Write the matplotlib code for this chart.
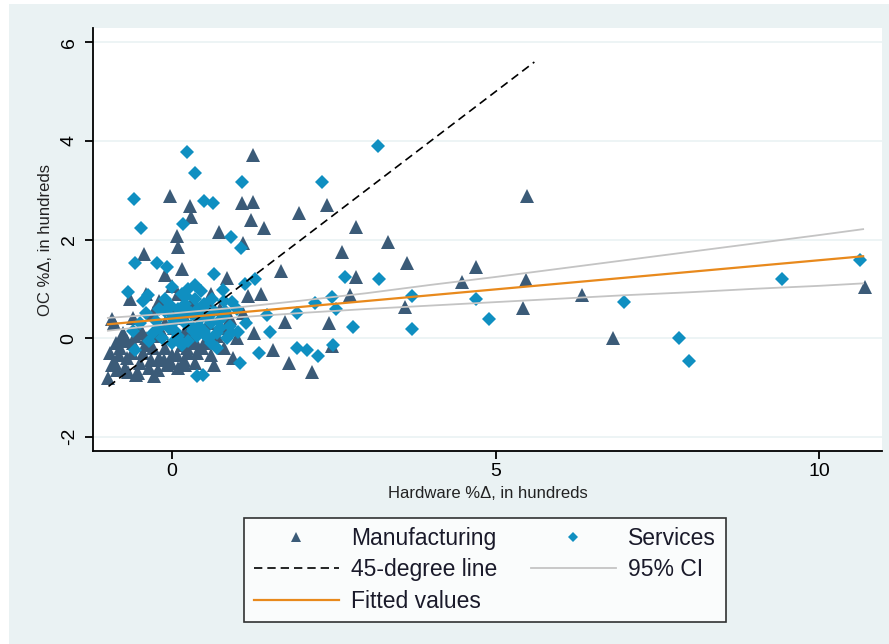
import matplotlib
matplotlib.use("Agg")
import matplotlib.pyplot as plt
from matplotlib.patches import Rectangle

plt.rcParams['font.family'] = ['Liberation Sans', 'DejaVu Sans']
plt.rcParams['axes.unicode_minus'] = False

# Manufacturing (triangles): hardware %change, OC %change (hundreds)
mfg_x = [5.49, 1.25, -0.03, 0.28, 0.29, 0.08, 0.09, -0.43, 1.08, 1.25, 1.22, 1.42, 1.96, 0.73,
         1.10, 2.40, 2.84, 3.34, 2.63, 3.63, 2.84, 2.75, 3.60, 2.43, 2.47, 2.16, 4.70, 4.48,
         5.47, 5.42, 6.34, 6.82, 10.71, 1.68, 1.17, 1.38, 0.85, 0.59, 1.75, 1.27, 1.56, 1.81,
         0.46, 0.16, -0.10, -0.93,
         -0.99, -0.28, -0.08, 0.20, -0.88, -0.68, -0.95, -0.80, -0.70, -0.60, -0.50, -0.45,
         -0.40, -0.35, -0.30, -0.20, -0.15, -0.10, 0.00, 0.05, 0.10, 0.15, 0.25, 0.30, 0.35,
         0.40, 0.50, 0.55, 0.60, 0.70, 0.80, 0.90, 1.00, -0.90, -0.75, -0.60, -0.50, -0.30,
         -0.20, -0.10, 0.00, 0.10, 0.20, 0.30, 0.45, 0.60, 0.75, -0.65, -0.40, 0.00, -0.85,
         -0.55, 0.65, 0.95, 1.10, -0.25, 0.20, -0.70, 0.35, 0.85,
         -0.92, -0.82, -0.72, -0.62, -0.52, -0.42, -0.32, -0.22, -0.12, -0.02, 0.08, 0.18,
         0.28, 0.38, -0.87, -0.77, -0.57, -0.37, -0.17, 0.03, 0.23, -0.47]
mfg_y = [2.88, 3.71, 2.88, 2.68, 2.45, 2.07, 1.85, 1.70, 2.74, 2.76, 2.39, 2.23, 2.54, 2.15,
         1.93, 2.70, 2.25, 1.95, 1.74, 1.52, 1.24, 0.87, 0.63, 0.30, -0.16, -0.69, 1.44, 1.14,
         1.18, 0.61, 0.87, 0.00, 1.03, 1.36, 0.85, 0.89, 1.22, 0.63, 0.32, 0.10, -0.24, -0.51,
         -0.20, 1.40, 1.28, 0.38,
         -0.81, -0.77, -0.55, -0.55, -0.51, -0.69, -0.30, -0.20, -0.40, -0.10, -0.50, -0.30,
         0.00, -0.60, -0.20, -0.40, 0.10, -0.20, -0.35, 0.00, -0.60, -0.15, -0.30, 0.10, -0.50,
         0.20, -0.10, 0.30, -0.35, 0.05, -0.20, 0.40, 0.00, 0.30, 0.10, 0.40, 0.20, 0.50,
         0.75, 0.30, 0.60, 0.90, 0.40, 0.70, 0.55, 0.90, 0.60, 0.80, 0.90, 1.05, -0.65,
         -0.75, -0.55, -0.40, 0.50, 0.05, 0.15, -0.05, -0.05, 0.20,
         -0.55, -0.35, -0.60, -0.30, -0.70, -0.15, -0.45, -0.65, -0.45, -0.50, -0.35, -0.45,
         -0.10, -0.30, -0.10, 0.00, 0.05, -0.05, 0.15, 0.20, -0.20, 0.10]

# Services (diamonds)
srv_x = [3.18, 0.23, 0.36, -0.59, 1.08, 2.32, 0.49, 0.63, -0.48, 0.17, 0.91, 1.07, 2.67, 3.20,
         2.47, 2.21, 2.53, 2.80, 3.71, 3.71, 2.49, 2.09, 2.26, 4.70, 4.90, 6.99, 7.84, 7.99,
         9.43, 10.63, -0.57, -0.23, -0.08, -0.68, 0.00, 0.36, -0.37, 0.65, 1.13, 1.28, 0.79,
         0.93, 1.93, 1.47, 1.02, 1.51, 1.34, 1.93, 1.05, 0.48, 0.39, -0.57, 0.15,
         -0.50, -0.40, -0.30, -0.20, -0.10, 0.00, 0.05, 0.10, 0.15, 0.20, 0.25, 0.30, 0.35,
         0.40, 0.45, 0.50, 0.55, 0.60, 0.65, 0.70, 0.75, 0.80, 0.85, 0.90, 1.00, -0.45, -0.25,
         -0.15, 0.00, 0.10, 0.20, 0.30, 0.40, 0.50, 0.60, -0.35, -0.60, 0.80, 1.15, 0.25,
         -0.10, 0.45, 0.05, 0.35, 0.55, 0.70, -0.05, 0.25,
         -0.20, 0.12, 0.32, 0.52, 0.72, 0.92, -0.02, 0.22, 0.42, 0.62, 0.82, 0.15, 0.38, 0.58]
srv_y = [3.89, 3.77, 3.35, 2.82, 3.16, 3.16, 2.78, 2.74, 2.23, 2.31, 2.05, 1.83, 1.24, 1.20,
         0.83, 0.71, 0.59, 0.22, 0.85, 0.18, -0.14, -0.24, -0.37, 0.79, 0.39, 0.73, 0.00, -0.47,
         1.20, 1.58, 1.52, 1.52, 1.45, 0.93, 1.03, 1.07, 0.87, 1.30, 1.10, 1.20, 0.97,
         0.73, 0.51, 0.47, 0.12, 0.12, -0.30, -0.20, -0.50, -0.75, -0.77, -0.24, -0.14,
         0.30, 0.50, 0.10, 0.60, 0.80, 0.40, 0.15, 0.60, 0.90, 0.30, -0.05, 0.50, 0.80,
         0.10, 0.40, 0.70, 0.00, 0.30, 0.55, -0.20, 0.20, 0.45, 0.00, 0.25, 0.60, 0.75, 0.35,
         0.00, -0.10, 0.05, 0.70, 0.25, 0.60, 0.15, -0.10, -0.05, 0.15, 0.75, 0.30, 1.00,
         0.55, 0.95, 0.35, 0.45, 0.40, 0.10, 0.20, 0.55,
         0.20, 0.45, 0.15, 0.60, 0.35, 0.10, 0.65, 0.85, 0.25, 0.80, 0.55, -0.10, 0.05, 0.00]

# 45-degree line
deg_x = [-0.98, 5.60]
deg_y = [-0.98, 5.60]

# fitted values and 95% CI
fit_x = [-0.99, 10.68]
fit_y = [0.28, 1.66]
ci_x = [-0.99, 0, 1, 2, 3, 4, 5, 6, 7, 8, 9, 10, 10.68]
ci_hi = [0.41, 0.50, 0.62, 0.76, 0.91, 1.08, 1.24, 1.41, 1.58, 1.75, 1.92, 2.09, 2.21]
ci_lo = [0.15, 0.29, 0.42, 0.51, 0.59, 0.66, 0.73, 0.80, 0.87, 0.93, 1.00, 1.06, 1.11]

bg = '#eaf2f3'
navy = '#3b5b78'
sky = '#0f8fc1'
orange = '#e8891c'
grey = '#c4c4c4'

fig = plt.figure(figsize=(8.89, 6.44), dpi=100, facecolor='white')
# light background panel (small white margin at top/left as in the screenshot)
fig.patches.append(Rectangle((9 / 889, 0), 1, 1 - 4 / 644, transform=fig.transFigure,
                             facecolor=bg, edgecolor='none', zorder=-10))

ax = fig.add_axes([0.1046, 0.2997, 0.8874, 0.6568])
ax.set_facecolor('white')

ax.plot(mfg_x, mfg_y, '^', color=navy, ms=9.5, mew=0, label='Manufacturing', zorder=3)
ax.plot(srv_x, srv_y, 'D', color=sky, ms=7, mew=0, label='Services', zorder=3)
ax.plot(deg_x, deg_y, '--', color='black', lw=1.2, dashes=(5, 3), label='45-degree line', zorder=4)
ax.plot(ci_x, ci_hi, '-', color=grey, lw=1.3, label='95% CI', zorder=4)
ax.plot(ci_x, ci_lo, '-', color=grey, lw=1.3, zorder=4)
ax.plot(fit_x, fit_y, '-', color=orange, lw=1.6, label='Fitted values', zorder=5)

ax.set_xlim(-1.22, 10.97)
ax.set_ylim(-2.29, 6.29)
ax.set_xticks([0, 5, 10])
ax.set_yticks([-2, 0, 2, 4, 6])
ax.yaxis.grid(True, color=bg, lw=1.2)
ax.set_axisbelow(True)

ax.spines['top'].set_visible(False)
ax.spines['right'].set_visible(False)
ax.spines['left'].set_linewidth(1.3)
ax.spines['bottom'].set_linewidth(1.3)
ax.tick_params(direction='out', length=6, width=1.3, labelsize=14, colors='black')
ax.tick_params(axis='x', pad=3)
ax.tick_params(axis='y', pad=5)
for lab in ax.get_yticklabels():
    lab.set_rotation(90)
    lab.set_va('center')

ax.set_xlabel('Hardware %Δ, in hundreds', fontsize=12, color='#222222', va='top')
ax.xaxis.set_label_coords(0.5, -0.082)
ax.set_ylabel('OC %Δ, in hundreds', fontsize=12, color='#222222')
ax.yaxis.set_label_coords(-0.051, 0.5)

h, l = ax.get_legend_handles_labels()
# order so columns read row-wise: Manufacturing/Services, 45-degree/95% CI, Fitted
order = [0, 2, 4, 1, 3]
leg = fig.legend([h[i] for i in order], [l[i] for i in order],
                 loc='center', bbox_to_anchor=(0.5456, 0.115), ncol=2,
                 fontsize=16.5, frameon=True, fancybox=False, edgecolor='black',
                 handlelength=3.7, handletextpad=0.55, columnspacing=1.45,
                 borderpad=0.42, labelspacing=0.36, markerscale=0.7)
leg.get_frame().set_linewidth(1.2)
for t in leg.get_texts():
    t.set_color('#1a1a2a')

fig.savefig('out.png', dpi=100, facecolor='white')
